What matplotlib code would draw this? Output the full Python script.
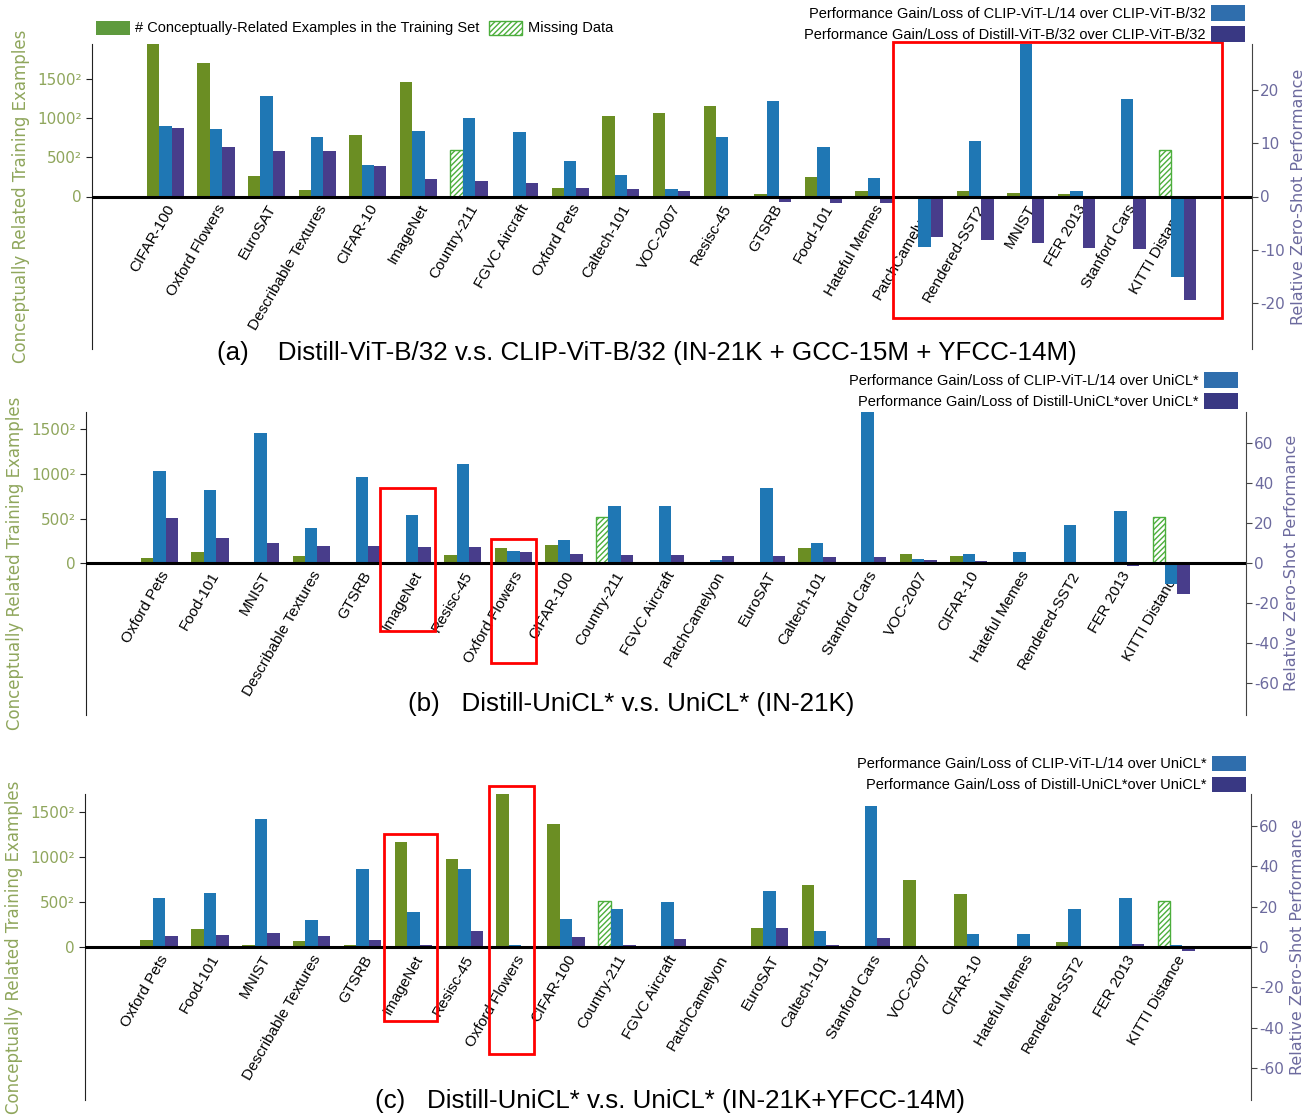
import numpy as np
import matplotlib
matplotlib.use("Agg")
import matplotlib.pyplot as plt
from matplotlib.patches import Patch, Rectangle

plt.rcParams["axes.unicode_minus"] = False

# ---------------- data ----------------
datasets_a = ["CIFAR-100", "Oxford Flowers", "EuroSAT", "Describable Textures", "CIFAR-10",
              "ImageNet", "Country-211", "FGVC Aircraft", "Oxford Pets", "Caltech-101",
              "VOC-2007", "Resisc-45", "GTSRB", "Food-101", "Hateful Memes",
              "PatchCamelyon", "Rendered-SST2", "MNIST", "FER 2013", "Stanford Cars",
              "KITTI Distance"]
# number of conceptually-related examples (None = missing data)
count_a = [3.9e6, 2.91e6, 7.0e4, 6.6e3, 6.15e5, 2.13e6, None, 0, 1.14e4, 1.055e6,
           1.136e6, 1.346e6, 1.2e3, 6.3e4, 4.6e3, 0, 4.6e3, 2.2e3, 9.0e2, 0, None]
large_a = [13.2, 12.6, 18.9, 11.1, 6.0, 12.3, 14.7, 12.1, 6.6, 4.1,
           1.4, 11.1, 17.9, 9.3, 3.5, -9.4, 10.5, 30.0, 1.0, 18.3, -15.1]
distill_a = [12.9, 9.2, 8.6, 8.6, 5.8, 3.3, 2.9, 2.6, 1.6, 1.4,
             1.0, 0.0, -1.0, -1.2, -1.2, -7.6, -8.1, -8.8, -9.6, -9.9, -19.4]
missing_a = 3.61e5

datasets_bc = ["Oxford Pets", "Food-101", "MNIST", "Describable Textures", "GTSRB",
               "ImageNet", "Resisc-45", "Oxford Flowers", "CIFAR-100", "Country-211",
               "FGVC Aircraft", "PatchCamelyon", "EuroSAT", "Caltech-101", "Stanford Cars",
               "VOC-2007", "CIFAR-10", "Hateful Memes", "Rendered-SST2", "FER 2013",
               "KITTI Distance"]
count_b = [3.1e3, 1.51e4, 0, 6.1e3, 0, 0, 8.1e3, 2.96e4, 4.04e4, None,
           0, 0, 0, 2.96e4, 0, 1.02e4, 6.1e3, 0, 3.6e2, 3.6e2, None]
large_b = [46.2, 36.5, 65.0, 17.8, 43.0, 24.2, 49.7, 6.2, 11.7, 28.8,
           28.8, 1.7, 37.5, 10.2, 80.0, 2.0, 4.5, 5.5, 19.2, 26.3, -10.5]
distill_b = [22.8, 12.7, 10.0, 8.7, 8.7, 8.2, 8.2, 5.7, 4.7, 4.0,
             4.0, 3.5, 3.5, 3.0, 3.0, 1.5, 1.0, 0.0, -0.8, -1.5, -15.2]
missing_b = 2.70e5

count_c = [6.1e3, 4.16e4, 3.6e2, 4.5e3, 3.6e2, 1.353e6, 9.62e5, 2.95e6, 1.869e6, None,
           0, 0, 4.45e4, 4.75e5, 0, 5.54e5, 3.42e5, 2.2e2, 2.7e3, 2.2e2, None]
large_c = [24.6, 27.1, 63.6, 13.6, 38.8, 17.2, 38.8, 1.3, 14.0, 18.7,
           22.6, 0.0, 27.6, 7.9, 70.1, 0.3, 6.4, 6.4, 19.0, 24.6, 1.2]
distill_c = [5.5, 6.0, 6.9, 5.5, 3.5, 1.3, 7.9, -0.7, 5.0, 1.3,
             4.0, -0.8, 9.4, 1.3, 4.5, 0.7, 0.7, 0.7, 0.3, 1.8, -2.0]
missing_c = 2.59e5

GREEN = "#6b8e23"
HATCH_GREEN = "#4cae3c"
BLUE = "#1f77b4"
PURPLE = "#483d8b"
LEFT_COL = "#8fa65c"
RIGHT_COL = "#6c6a9e"
TXT_FONT = ["Liberation Sans", "DejaVu Sans"]

fig = plt.figure(figsize=(13.1, 11.15), dpi=100)


def draw_panel(rect, names, counts, large, distill, missing, cnt_lim, perf_lim, perf_ticks):
    ax = fig.add_axes(rect)
    ax2 = ax.twinx()
    x = np.arange(len(names))
    w = 0.245
    for i, c in enumerate(counts):
        if c is None:
            ax.bar(x[i] - w, np.sqrt(missing), w, facecolor="white", edgecolor=HATCH_GREEN,
                   hatch="//////", linewidth=1.0)
        else:
            ax.bar(x[i] - w, np.sqrt(c), w, color=GREEN)
    ax2.bar(x, large, w, color=BLUE)
    ax2.bar(x + w, distill, w, color=PURPLE)
    ax2.axhline(0, color="black", lw=2.2, zorder=5)

    ax.set_xlim(-1.45, len(names) + 0.47)
    ax.set_ylim(-cnt_lim, cnt_lim)
    ax2.set_ylim(-perf_lim, perf_lim)

    ax.spines["bottom"].set_position(("data", 0))
    ax.spines["bottom"].set_visible(False)
    ax.spines["top"].set_visible(False)
    ax.spines["right"].set_visible(False)
    for s in ["top", "bottom", "left"]:
        ax2.spines[s].set_visible(False)
    ax.spines["left"].set_color("#222222")
    ax2.spines["right"].set_color("#444444")

    ax.set_xticks(x)
    ax.set_xticklabels(names, rotation=60, ha="right", rotation_mode="anchor",
                       fontsize=11, family=TXT_FONT)
    ax.tick_params(axis="x", length=0, pad=4)

    ax.set_yticks([0, 500, 1000, 1500])
    ax.set_yticklabels(["0", "500²", "1000²", "1500²"])
    ax.tick_params(axis="y", labelsize=11, labelcolor=LEFT_COL, length=4, color="#222222")
    ax.set_ylabel("Conceptually Related Training Examples", color=LEFT_COL, fontsize=12,
                  labelpad=5)

    ax2.set_yticks(perf_ticks)
    ax2.tick_params(axis="y", labelsize=11, labelcolor=RIGHT_COL, length=4, color="#444444",
                    pad=2)
    ax2.set_ylabel("Relative Zero-Shot Performance", color=RIGHT_COL, fontsize=11.5,
                   labelpad=4)
    return ax, ax2


def box(ax2, names, first, last, left_off, right_off, top, bottom):
    i0 = names.index(first)
    i1 = names.index(last)
    r = Rectangle((i0 + left_off, bottom), (i1 + right_off) - (i0 + left_off), top - bottom,
                  transform=ax2.transData, fill=False, edgecolor="red", lw=2,
                  clip_on=False, zorder=10)
    ax2.add_patch(r)


def perf_legend(label1, label2, y, right):
    h = [Patch(facecolor="#2f6ead", label=label1),
         Patch(facecolor="#393883", label=label2)]
    fig.legend(handles=h, loc="center right", bbox_to_anchor=(right, y),
               bbox_transform=fig.transFigure, frameon=False, markerfirst=False,
               prop={"family": TXT_FONT, "size": 10.5}, handlelength=2.3,
               handleheight=1.3, handletextpad=0.4, labelspacing=0.35, borderpad=0,
               borderaxespad=0)


H = 1115.0
W = 1310.0

# panel (a)
ax_a, ax2_a = draw_panel([92 / W, 1 - 349 / H, 1160 / W, 305 / H], datasets_a, count_a,
                         large_a, distill_a, missing_a, 1950, 28.6, [-20, -10, 0, 10, 20])
box(ax2_a, datasets_a, "PatchCamelyon", "KITTI Distance", -0.62, 0.87, 29.0, -22.8)
fig.text(647 / W, 1 - 353 / H,
         "(a)    Distill-ViT-B/32 v.s. CLIP-ViT-B/32 (IN-21K + GCC-15M + YFCC-14M)",
         ha="center", va="center", fontsize=18.7, family=TXT_FONT)
count_handles = [Patch(facecolor="#5e9a3d", label="# Conceptually-Related Examples in the Training Set"),
                 Patch(facecolor="white", edgecolor=HATCH_GREEN, hatch="//////", label="Missing Data")]
fig.legend(handles=count_handles, loc="center left", bbox_to_anchor=(96 / W, 1 - 28 / H),
           bbox_transform=fig.transFigure, frameon=False, ncol=2,
           prop={"family": TXT_FONT, "size": 10.5}, handlelength=2.3, handleheight=1.1,
           handletextpad=0.4, columnspacing=0.6, borderpad=0, borderaxespad=0)
perf_legend("Performance Gain/Loss of CLIP-ViT-L/14 over CLIP-ViT-B/32",
            "Performance Gain/Loss of Distill-ViT-B/32 over CLIP-ViT-B/32",
            1 - 23.5 / H, 1245 / W)

# panel (b)
ax_b, ax2_b = draw_panel([86 / W, 1 - 715 / H, 1159.5 / W, 303.3 / H], datasets_bc, count_b,
                         large_b, distill_b, missing_b, 1698, 75.8,
                         [-60, -40, -20, 0, 20, 40, 60])
box(ax2_b, datasets_bc, "ImageNet", "ImageNet", -0.63, 0.44, 37.6, -33.9)
box(ax2_b, datasets_bc, "Oxford Flowers", "Oxford Flowers", -0.45, 0.45, 12.2, -49.9)
fig.text(631 / W, 1 - 704 / H, "(b)   Distill-UniCL* v.s. UniCL* (IN-21K)",
         ha="center", va="center", fontsize=18.7, family=TXT_FONT)
perf_legend("Performance Gain/Loss of CLIP-ViT-L/14 over UniCL*",
            "Performance Gain/Loss of Distill-UniCL*over UniCL*",
            1 - 390.5 / H, 1238 / W)

# panel (c)
ax_c, ax2_c = draw_panel([85.4 / W, 1 - 1100 / H, 1165.6 / W, 305.7 / H], datasets_bc, count_c,
                         large_c, distill_c, missing_c, 1695, 75.8,
                         [-60, -40, -20, 0, 20, 40, 60])
box(ax2_c, datasets_bc, "ImageNet", "ImageNet", -0.58, 0.47, 55.9, -36.8)
box(ax2_c, datasets_bc, "Oxford Flowers", "Oxford Flowers", -0.52, 0.38, 79.7, -53.2)
fig.text(670 / W, 1 - 1101 / H, "(c)   Distill-UniCL* v.s. UniCL* (IN-21K+YFCC-14M)",
         ha="center", va="center", fontsize=18.7, family=TXT_FONT)
perf_legend("Performance Gain/Loss of CLIP-ViT-L/14 over UniCL*",
            "Performance Gain/Loss of Distill-UniCL*over UniCL*",
            1 - 774 / H, 1246 / W)

fig.savefig("out.png", dpi=100)
